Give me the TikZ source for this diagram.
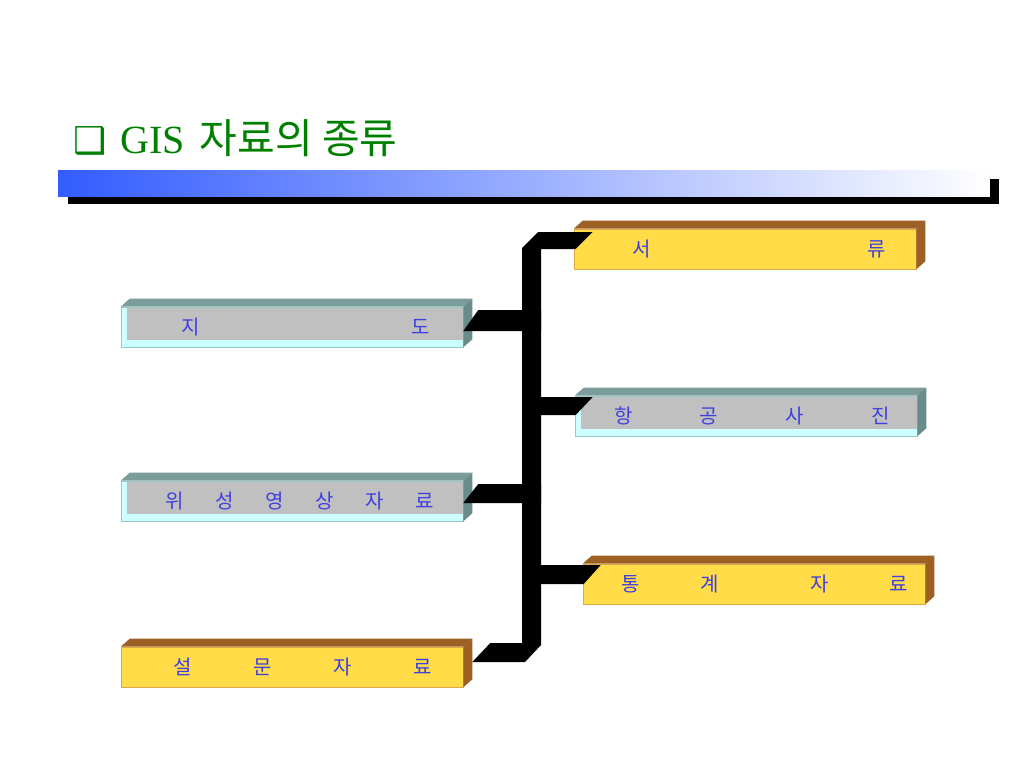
\documentclass[tikz,border=0pt]{standalone}
\usepackage{fontspec}
\setmainfont{Liberation Serif}
\newfontfamily\kr{Noto Sans CJK KR}
\newfontfamily\dv{DejaVu Sans}
\usetikzlibrary{calc}

\definecolor{titlegreen}{RGB}{0,128,0}
\definecolor{barblue}{RGB}{51,92,255}
\definecolor{lbl}{RGB}{64,64,224}
\definecolor{cyanlite}{RGB}{204,255,255}
\definecolor{cyanedge}{RGB}{150,200,200}
\definecolor{grayin}{RGB}{192,192,192}
\definecolor{graytop}{RGB}{124,156,156}
\definecolor{grayside}{RGB}{104,140,140}
\definecolor{gold}{RGB}{255,220,72}
\definecolor{goldedge}{RGB}{225,170,70}
\definecolor{brown}{RGB}{156,96,36}

\newcommand\spread[3]{\makebox[342pt][l]{\hspace{#1pt}\makebox[#2pt][s]{#3}}}

\begin{document}
\begin{tikzpicture}[x=1pt,y=-1pt]
\tikzstyle{face} = [rectangle, minimum width=342pt, minimum height=40pt, inner sep=0pt, text=lbl, font=\kr\fontsize{20}{20}\selectfont]
\tikzstyle{grayface} = [face, fill=cyanlite, draw=cyanedge, line width=0.6pt, path picture={\fill[grayin] ($(path picture bounding box.north west)+(6,0)$) rectangle ($(path picture bounding box.south east)+(0,-7)$);}]
\tikzstyle{goldface} = [face, fill=gold, draw=goldedge, line width=0.6pt]
\tikzstyle{wire} = [fill=black]

\path[use as bounding box, fill=white] (0,0) rectangle (1024,768);

\node[anchor=base west, inner sep=0pt, text=titlegreen, font=\fontsize{40}{40}\selectfont] (title) at (73,153) {{\dv\fontsize{37}{37}\selectfont ❑}\hspace{4pt} GIS\hspace{5pt} {\kr\fontsize{41}{41}\selectfont 자료의 종류}};
\shade[left color=barblue, right color=white] (58,170) rectangle (990,196);
\fill (68,197) rectangle (999,204);
\fill (990,179) rectangle (999,204);

\node[grayface] (map) at (292,327) {\spread{60}{249}{지 도}};
\node[grayface] (sat) at (292,501) {\spread{44}{269}{위 성 영 상 자 료}};
\node[goldface] (survey) at (292,667) {\spread{52}{259}{설 문 자 료}};
\node[goldface] (docs) at (745,249) {\spread{58}{254}{서 류}};
\node[grayface] (air) at (746,416) {\spread{39}{276}{항 공 사 진}};
\node[goldface] (stats) at (754,584) {\spread{38}{287}{통 계\hspace{30pt} 자 료}};

\foreach \n/\c/\s in {map/graytop/grayside, sat/graytop/grayside, air/graytop/grayside, survey/brown/brown, docs/brown/brown, stats/brown/brown}{
  \fill[\c] (\n.north west) -- ++(9,-8) -- ($(\n.north east)+(9,-8)$) -- (\n.north east) -- cycle;
  \fill[\s] (\n.north east) -- ++(9,-8) -- ($(\n.south east)+(9,-8)$) -- (\n.south east) -- cycle;
}

\coordinate (busL) at (522,0);
\coordinate (busR) at (541,0);

\fill[wire] ($(busL |- docs.west)+(0,-1)$) -- ++(16,-16) -- ($(docs.west)+(19,-17)$) -- ($(docs.west)+(2,0)$) -- (busR |- docs.west) -- ($(busR |- survey.east)+(0,-22)$) -- ++(-16,17) -- ($(survey.east)+(9,-5)$) -- ++(18,-19) -- ($(busL |- survey.east)+(0,-24)$) -- cycle;
\fill[wire] ($(map.east)+(0,4)$) -- ++(15,-21) -- ($(busR |- map.east)+(0,-17)$) -- ($(busR |- map.east)+(0,4)$) -- cycle;
\fill[wire] ($(sat.east)+(0,2)$) -- ++(15,-19) -- ($(busR |- sat.east)+(0,-17)$) -- ($(busR |- sat.east)+(0,2)$) -- cycle;
\fill[wire] ($(busL |- air.west)+(0,-19)$) -- ($(air.west)+(18,-19)$) -- ($(air.west)+(1,-1)$) -- ($(busL |- air.west)+(0,-1)$) -- cycle;
\fill[wire] ($(busL |- stats.west)+(0,-19)$) -- ($(stats.west)+(18,-19)$) -- ($(stats.west)+(1,0)$) -- (busL |- stats.west) -- cycle;
\end{tikzpicture}
\end{document}
